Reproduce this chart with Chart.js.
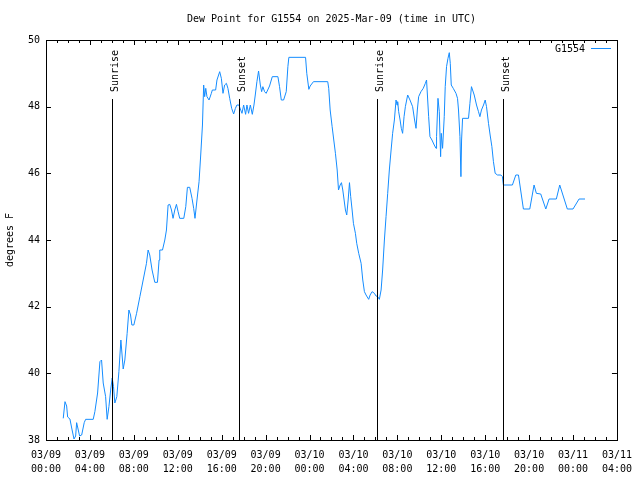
<!DOCTYPE html>
<html>
<head>
<meta charset="utf-8">
<title>Dew Point for G1554</title>
<script src="https://cdn.jsdelivr.net/npm/chart.js@4.4.1/dist/chart.umd.min.js"></script>
<style>
  body { margin: 0; background: #fff; }
  #wrap { width: 640px; height: 480px; }
</style>
</head>
<body>
<div id="wrap"><canvas id="dew" width="640" height="480"></canvas></div>
<script>
// hours since 03/09 00:00 UTC
const hours = [
  1.57, 1.73, 1.88, 1.97, 2.18, 2.34, 2.55, 2.70, 2.79, 2.94, 3.06, 3.25, 3.48, 3.61, 4.30, 4.45,
  4.70, 4.91, 5.06, 5.21, 5.43, 5.57, 5.73, 5.91, 6.03, 6.15, 6.27, 6.45, 6.64, 6.82, 7.03, 7.18,
  7.39, 7.55, 7.70, 7.82, 8.00, 8.25, 8.55, 8.85, 9.15, 9.30, 9.45, 9.66, 9.91, 10.15, 10.30, 10.36,
  10.61, 10.82, 10.97, 11.12, 11.27, 11.43, 11.57, 11.73, 11.88, 12.03, 12.18, 12.55, 12.73, 12.88,
  13.09, 13.30, 13.45, 13.57, 13.75, 13.94, 14.09, 14.25, 14.36, 14.45, 14.55, 14.66, 14.85, 15.06,
  15.15, 15.45, 15.57, 15.82, 15.97, 16.12, 16.27, 16.43, 16.57, 16.73, 16.91, 17.09, 17.25, 17.39,
  17.57, 17.70, 17.85, 18.00, 18.18, 18.30, 18.45, 18.61, 18.79, 18.94, 19.06, 19.21, 19.36, 19.52,
  19.64, 19.75, 19.91, 20.05, 20.36, 20.61, 21.12, 21.27, 21.43, 21.64, 21.88, 22.03, 22.12, 23.64,
  23.75, 23.94, 24.06, 24.36, 25.66, 25.75, 25.88, 26.06, 26.21, 26.36, 26.52, 26.64, 26.79, 26.91,
  27.03, 27.15, 27.27, 27.39, 27.52, 27.64, 27.75, 27.88, 28.00, 28.18, 28.30, 28.48, 28.70, 28.85,
  29.00, 29.15, 29.39, 29.52, 29.70, 29.91, 30.06, 30.21, 30.36, 30.52, 30.66, 30.82, 30.97, 31.12,
  31.27, 31.43, 31.57, 31.73, 31.88, 31.97, 32.03, 32.12, 32.25, 32.36, 32.48, 32.61, 32.73, 32.94,
  33.15, 33.39, 33.57, 33.70, 33.82, 33.94, 34.15, 34.36, 34.55, 34.66, 34.85, 34.97, 35.15, 35.36,
  35.52, 35.57, 35.70, 35.82, 35.94, 36.00, 36.12, 36.27, 36.36, 36.48, 36.61, 36.73, 36.82, 36.91,
  37.09, 37.34, 37.48, 37.57, 37.70, 37.79, 37.85, 37.94, 38.48, 38.61, 38.75, 38.85, 39.00, 39.21,
  39.39, 39.52, 39.66, 39.85, 40.00, 40.12, 40.30, 40.45, 40.61, 40.75, 40.91, 41.12, 41.43, 41.57,
  41.66, 42.48, 42.79, 43.03, 43.48, 44.06, 44.45, 44.66, 45.06, 45.52, 45.82, 46.48, 46.79, 47.48,
  48.00, 48.55, 49.09
];

// dew point, degrees F
const dewPoint = [
  38.65, 39.15, 39.02, 38.69, 38.63, 38.36, 38.03, 38.12, 38.52, 38.30, 38.12, 38.15, 38.52, 38.62, 38.62, 38.85,
  39.41, 40.35, 40.40, 39.71, 39.30, 38.62, 39.00, 39.56, 39.86, 39.60, 39.11, 39.30, 40.05, 41.00, 40.13, 40.40,
  41.20, 41.90, 41.75, 41.45, 41.45, 41.80, 42.30, 42.80, 43.30, 43.70, 43.55, 43.10, 42.73, 42.73, 43.40, 43.70,
  43.70, 44.00, 44.30, 45.05, 45.07, 44.90, 44.65, 44.90, 45.07, 44.85, 44.65, 44.65, 45.00, 45.58,
  45.58, 45.25, 44.95, 44.65, 45.20, 45.75, 46.55, 47.45, 48.65, 48.30, 48.55, 48.30, 48.20, 48.40,
  48.50, 48.50, 48.80, 49.05, 48.85, 48.40, 48.65, 48.70, 48.55, 48.25, 47.95, 47.78, 47.95, 48.05,
  48.05, 47.93, 47.80, 48.05, 47.77, 48.05, 47.80, 48.05, 47.77, 48.05, 48.35, 48.75, 49.07, 48.65,
  48.45, 48.60, 48.45, 48.40, 48.62, 48.90, 48.90, 48.60, 48.20, 48.20, 48.45, 49.20, 49.48, 49.48,
  49.00, 48.52, 48.62, 48.75, 48.75, 48.55, 47.90, 47.40, 47.00, 46.60, 46.10, 45.50, 45.65, 45.72,
  45.50, 45.20, 44.90, 44.75, 45.20, 45.72, 45.30, 44.90, 44.50, 44.20, 43.90, 43.60, 43.30, 42.80,
  42.45, 42.35, 42.22, 42.35, 42.45, 42.40, 42.32, 42.30, 42.22, 42.50, 43.10, 44.00, 44.70, 45.40,
  46.10, 46.70, 47.20, 47.60, 48.20, 48.05, 48.15, 47.85, 47.60, 47.35, 47.20, 47.70, 48.00, 48.35,
  48.20, 48.00, 47.60, 47.35, 47.90, 48.30, 48.45, 48.55, 48.70, 48.80, 47.70, 47.10, 47.00, 46.85,
  46.75, 47.10, 48.25, 47.85, 46.50, 47.20, 46.75, 47.70, 48.60, 49.20, 49.45, 49.62, 49.30, 48.65,
  48.55, 48.40, 48.25, 47.90, 47.10, 45.90, 47.00, 47.65, 47.65, 48.10, 48.60, 48.50, 48.35, 48.05,
  47.85, 47.70, 47.90, 48.05, 48.20, 48.00, 47.50, 47.15, 46.80, 46.35, 46.00, 45.95, 45.95, 45.90,
  45.65, 45.65, 45.95, 45.95, 44.93, 44.93, 45.65, 45.40, 45.38, 44.93, 45.23, 45.23, 45.65, 44.93,
  44.93, 45.23, 45.23
];

const sunLabels = ['Sunrise', 'Sunset', 'Sunrise', 'Sunset'];
const sunHours = [6.03, 17.57, 30.15, 41.64];

const yTicks = [38, 40, 42, 44, 46, 48, 50];

const seriesName = 'G1554';
const titleText = 'Dew Point for G1554 on 2025-Mar-09 (time in UTC)';
const yTitle = 'degrees F';

const FONT = '10px "DejaVu Sans Mono", monospace';
const LINE_COLOR = 'rgb(20,140,255)';

function pad(n) { return (n < 10 ? '0' : '') + n; }

// frame, inward ticks, sun markers, title, legend
const gnuFrame = {
  id: 'gnuFrame',
  afterDraw(chart) {
    const c = chart.ctx;
    const a = chart.chartArea;
    const xs = chart.scales.x, ys = chart.scales.y;
    c.save();
    c.strokeStyle = '#000';
    c.lineWidth = 1;
    c.beginPath();
    // x ticks, every hour (minor) and every 4 hours (major)
    for (let h = 0; h <= 52; h++) {
      const px = Math.round(xs.getPixelForValue(h)) + 0.5;
      const len = h % 4 === 0 ? 5 : 3;
      c.moveTo(px, a.bottom); c.lineTo(px, a.bottom - len);
      c.moveTo(px, a.top); c.lineTo(px, a.top + len);
    }
    yTicks.forEach(v => {
      const py = Math.round(ys.getPixelForValue(v)) + 0.5;
      c.moveTo(a.left, py); c.lineTo(a.left + 5, py);
      c.moveTo(a.right, py); c.lineTo(a.right - 5, py);
    });
    c.stroke();
    c.strokeRect(Math.round(a.left) + 0.5, Math.round(a.top) + 0.5,
      Math.round(a.right - a.left), Math.round(a.bottom - a.top));

    // sunrise / sunset lines
    c.font = FONT;
    c.fillStyle = '#000';
    sunHours.forEach((h, i) => {
      const px = Math.round(xs.getPixelForValue(h)) + 0.5;
      c.beginPath();
      c.moveTo(px, 99); c.lineTo(px, a.bottom);
      c.stroke();
      c.save();
      c.translate(px + 3, 92);
      c.rotate(-Math.PI / 2);
      c.textAlign = 'left';
      c.textBaseline = 'middle';
      c.fillText(sunLabels[i], 0, 0);
      c.restore();
    });

    // title
    c.textAlign = 'center';
    c.textBaseline = 'middle';
    c.fillText(titleText, (a.left + a.right) / 2, 19);

    // y title
    c.save();
    c.translate(10, (a.top + a.bottom) / 2);
    c.rotate(-Math.PI / 2);
    c.fillText(yTitle, 0, 0);
    c.restore();

    // legend
    c.textAlign = 'right';
    c.fillText(seriesName, 585, 49);
    c.strokeStyle = LINE_COLOR;
    c.beginPath();
    c.moveTo(591, 48.5); c.lineTo(611, 48.5);
    c.stroke();
    c.restore();
  }
};

Chart.defaults.font.family = '"DejaVu Sans Mono", monospace';
Chart.defaults.font.size = 10;
Chart.defaults.color = '#000';

const ctx = document.getElementById('dew');

new Chart(ctx, {
  type: 'line',
  data: {
    datasets: [{
      label: seriesName,
      data: hours.map((h, i) => ({ x: h, y: dewPoint[i] })),
      borderColor: LINE_COLOR,
      borderWidth: 1,
      pointRadius: 0,
      tension: 0,
      fill: false
    }]
  },
  options: {
    responsive: false,
    animation: false,
    layout: { padding: { top: 40, right: 22, left: 0, bottom: 0 } },
    plugins: { legend: { display: false }, tooltip: { enabled: false } },
    scales: {
      x: {
        type: 'linear',
        min: 0,
        max: 52,
        grid: { display: false, drawTicks: false },
        border: { display: false },
        afterFit(s) { s.height = 40; },
        ticks: {
          stepSize: 4,
          padding: 8,
          maxRotation: 0,
          autoSkip: false,
          font: { lineHeight: 1.4 },
          callback(v) {
            const day = 9 + Math.floor(v / 24);
            return ['03/' + pad(day), pad(v % 24) + ':00'];
          }
        }
      },
      y: {
        min: 38,
        max: 50,
        grid: { display: false, drawTicks: false },
        border: { display: false },
        afterFit(s) { s.width = 46; },
        ticks: { stepSize: 2, padding: 6 }
      }
    }
  },
  plugins: [gnuFrame]
});
</script>
</body>
</html>
